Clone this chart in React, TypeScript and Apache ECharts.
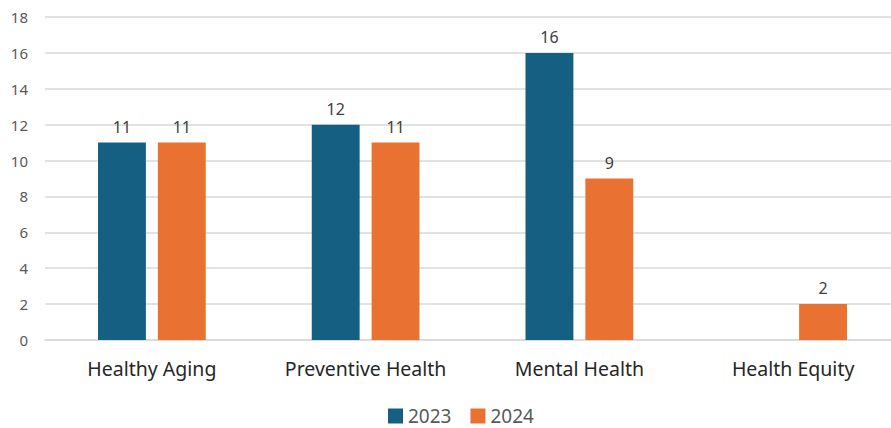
import React, { useEffect, useRef } from "react";
import * as echarts from "echarts";

const categories = ["Healthy Aging", "Preventive Health", "Mental Health", "Health Equity"];
const values2023: (number | null)[] = [11, 12, 16, null];
const values2024: (number | null)[] = [11, 11, 9, 2];
const seriesNames = ["2023", "2024"];

export default function App() {
  const ref = useRef<HTMLDivElement>(null);
  useEffect(() => {
    if (!ref.current) return;
    const chart = echarts.init(ref.current, undefined, { renderer: "svg" });
    const font = "'Noto Sans', sans-serif";
    chart.setOption({
      animation: false,
      textStyle: { fontFamily: font },
      grid: { left: 45, width: 855, top: 17, height: 323, containLabel: false },
      legend: {
        top: 401,
        left: 383,
        itemWidth: 15,
        itemHeight: 15,
        itemGap: 19,
        icon: "rect",
        textStyle: { fontSize: 19, lineHeight: 20, color: "#595959", fontFamily: font },
        data: seriesNames,
      },
      xAxis: {
        type: "category",
        data: categories,
        axisLine: { show: true, lineStyle: { color: "#d9d9d9", width: 1.5 } },
        axisTick: { show: false },
        axisLabel: { fontSize: 19.5, color: "#262626", margin: 18, fontFamily: font },
      },
      yAxis: {
        type: "value",
        min: 0,
        max: 18,
        interval: 2,
        axisLine: { show: false },
        axisTick: { show: false },
        splitLine: { lineStyle: { color: "#d9d9d9", width: 1.5 } },
        axisLabel: { fontSize: 15, color: "#595959", margin: 17, fontFamily: font },
      },
      series: [
        {
          name: seriesNames[0],
          type: "bar",
          data: values2023,
          barWidth: "22.4%",
          barGap: "25%",
          itemStyle: { color: "#156082" },
          label: { show: true, position: "top", distance: 8, fontSize: 16, color: "#404040", fontFamily: font },
        },
        {
          name: seriesNames[1],
          type: "bar",
          data: values2024,
          barWidth: "22.4%",
          barGap: "25%",
          itemStyle: { color: "#E97132" },
          label: { show: true, position: "top", distance: 8, fontSize: 16, color: "#404040", fontFamily: font },
        },
      ],
    });
    return () => chart.dispose();
  }, []);
  return (
    <div style={{ width: 891, height: 428, position: "absolute", left: 0, top: 0, overflow: "hidden" }}>
      <div ref={ref} style={{ width: 901, height: 428 }} />
    </div>
  );
}
